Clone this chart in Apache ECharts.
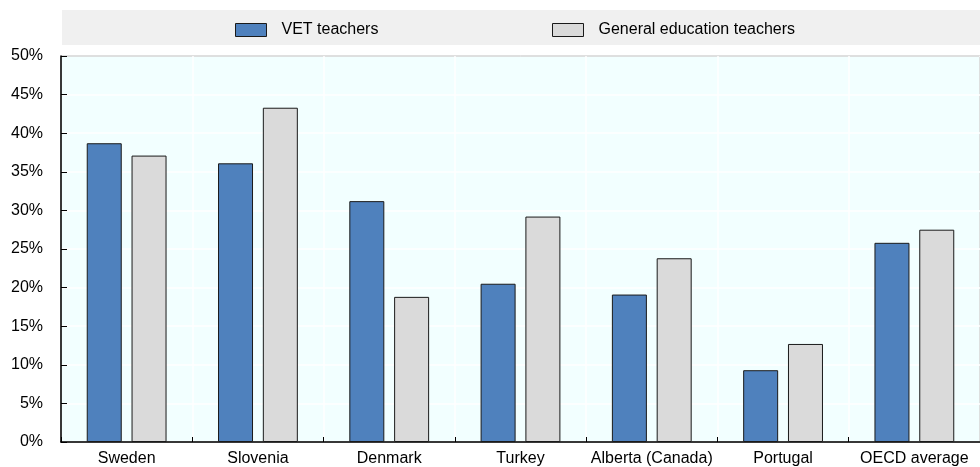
<!DOCTYPE html>
<html>
<head>
<meta charset="utf-8">
<script src="https://cdn.jsdelivr.net/npm/echarts@6/dist/echarts.min.js"></script>
<style>
  html, body { margin: 0; padding: 0; background: #ffffff; }
  #chart { width: 980px; height: 467px; }
</style>
</head>
<body>
<div id="chart"></div>
<script>
// Share of teachers by system (percent)
const categories = ['Sweden', 'Slovenia', 'Denmark', 'Turkey', 'Alberta (Canada)', 'Portugal', 'OECD average'];
const vetTeachers = [38.7, 36.1, 31.2, 20.5, 19.1, 9.3, 25.8];
const generalTeachers = [37.1, 43.3, 18.8, 29.2, 23.8, 12.7, 27.5];
const yTicks = { min: 0, max: 50, interval: 5 };

const FONT = '"Liberation Sans", Arial, sans-serif';
const chart = echarts.init(document.getElementById('chart'), null, { renderer: 'canvas' });

const legendBase = {
  orient: 'horizontal',
  top: 17,
  icon: 'rect',
  itemWidth: 31,
  itemHeight: 13,
  itemGap: 0,
  itemStyle: { borderColor: '#1a1a1a', borderWidth: 1 },
  textStyle: { fontFamily: FONT, fontSize: 16, color: '#000', padding: [0, 0, 0, 10] },
  selectedMode: false
};

chart.setOption({
  animation: false,
  backgroundColor: '#ffffff',
  graphic: [{
    type: 'rect',
    z: -1,
    shape: { x: 62, y: 10, width: 930, height: 35 },
    style: { fill: '#F0F0F0' }
  }],
  legend: [
    Object.assign({}, legendBase, { left: 230, data: ['VET teachers'] }),
    Object.assign({}, legendBase, { left: 547, data: ['General education teachers'] })
  ],
  grid: {
    left: 61,
    top: 56,
    bottom: 24,
    width: 933,
    show: true,
    backgroundColor: '#F2FFFF',
    borderColor: '#000',
    borderWidth: 1
  },
  xAxis: {
    type: 'category',
    data: categories,
    axisLine: { show: true, lineStyle: { color: '#000', width: 1.5 } },
    axisTick: { show: true, interval: 0, inside: true, length: 5, lineStyle: { color: '#000' } },
    axisLabel: { interval: 0, fontFamily: FONT, fontSize: 16, color: '#000', margin: 9 },
    splitLine: { show: true, interval: 0, lineStyle: { color: '#ffffff', width: 1.5 } }
  },
  yAxis: {
    type: 'value',
    min: yTicks.min,
    max: yTicks.max,
    interval: yTicks.interval,
    axisLine: { show: true, lineStyle: { color: '#000', width: 1.5 } },
    axisTick: { show: true, inside: true, length: 6, lineStyle: { color: '#000' } },
    axisLabel: { fontFamily: FONT, fontSize: 16, color: '#000', margin: 18, formatter: '{value}%' },
    splitLine: { show: true, lineStyle: { color: '#ffffff', width: 1.5 } }
  },
  series: [
    {
      name: 'VET teachers',
      type: 'bar',
      data: vetTeachers,
      barWidth: 35,
      barGap: '28%',
      itemStyle: { color: '#4F81BD', borderColor: '#1a1a1a', borderWidth: 1 }
    },
    {
      name: 'General education teachers',
      type: 'bar',
      data: generalTeachers,
      barWidth: 35,
      barGap: '28%',
      itemStyle: { color: '#DADADA', borderColor: '#1a1a1a', borderWidth: 1 }
    }
  ]
});
</script>
</body>
</html>
